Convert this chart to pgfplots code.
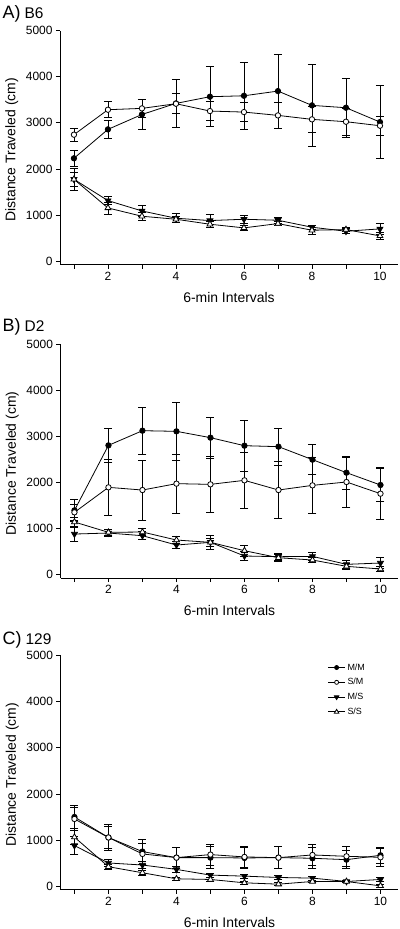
\documentclass[border=0pt]{standalone}
\usepackage{pgfplots}
\pgfplotsset{compat=1.18}
\usepackage{pgfplotstable}
\usepackage{fontspec}
\setmainfont{Liberation Sans}

% Panel A (B6)
\pgfplotstableread{
x y e
1 2230 175
2 2857 195
3 3180 330
4 3420 525
5 3565 650
6 3585 730
7 3687 800
8 3377 890
9 3326 635
10 3016 795
}\AMM
\pgfplotstableread{
x y e
1 2742 135
2 3283 175
3 3312 190
4 3413 215
5 3254 200
6 3232 200
7 3160 275
8 3074 280
9 3023 295
10 2936 210
}\ASM
\pgfplotstableread{
x y e
1 1775 230
2 1313 90
3 1089 110
4 931 100
5 880 140
6 909 80
7 887 60
8 736 50
9 649 55
10 700 115
}\AMS
\pgfplotstableread{
x y e
1 1775 160
2 1154 130
3 974 80
4 909 60
5 801 60
6 722 50
7 815 50
8 671 95
9 685 40
10 548 70
}\ASS

% Panel B (D2)
\pgfplotstableread{
x y e
1 1394 230
2 2803 370
3 3121 510
4 3107 620
5 2970 450
6 2796 550
7 2775 400
8 2493 330
9 2211 360
10 1944 350
}\BMM
\pgfplotstableread{
x y e
1 1351 180
2 1893 600
3 1835 650
4 1973 640
5 1958 600
6 2045 600
7 1835 620
8 1936 615
9 2009 540
10 1756 560
}\BSM
\pgfplotstableread{
x y e
1 881 150
2 903 80
3 845 90
4 643 80
5 701 150
6 405 100
7 390 80
8 397 90
9 224 80
10 253 115
}\BMS
\pgfplotstableread{
x y e
1 1142 100
2 918 70
3 925 70
4 751 80
5 701 80
6 520 120
7 368 80
8 318 60
9 181 60
10 123 50
}\BSS

% Panel C (129)
\pgfplotstableread{
x y e
1 1500 255
2 1056 290
3 750 270
4 619 230
5 619 235
6 612 230
7 619 235
8 605 230
9 575 200
10 670 180
}\CMM
\pgfplotstableread{
x y e
1 1457 255
2 1056 235
3 699 230
4 619 230
5 685 225
6 634 235
7 619 235
8 677 235
9 648 225
10 626 200
}\CSM
\pgfplotstableread{
x y e
1 881 190
2 503 70
3 459 70
4 364 60
5 240 40
6 218 40
7 189 40
8 175 40
9 102 30
10 146 40
}\CMS
\pgfplotstableread{
x y e
1 1063 150
2 422 50
3 291 50
4 160 40
5 146 40
6 73 30
7 44 30
8 102 30
9 102 30
10 7 30
}\CSS

\pgfplotsset{
  panel/.style={
    scale only axis, width=338bp, height=234bp,
    xmin=0.59, xmax=10.53, ymin=-72, ymax=5000,
    axis lines=left,
    axis line style={-, line width=0.8pt},
    every outer x axis line/.append style={-},
    every outer y axis line/.append style={-},
    tick align=outside, major tick length=4bp,
    tick style={line width=0.8pt, black},
    xtick={1,...,10}, xticklabels={,2,,4,,6,,8,,10},
    ytick={0,1000,...,5000},
    scaled y ticks=false,
    /pgf/number format/assume math mode=true,
    /pgf/number format/set thousands separator={},
    tick label style={font=\fontsize{12}{14}\selectfont},
    label style={font=\fontsize{14}{16}\selectfont},
    xlabel={6-min Intervals}, ylabel={Distance Traveled (cm)},
    xlabel style={at={(axis description cs:0.5,-0.14)}, anchor=center},
    ylabel style={at={(axis description cs:-0.143,0.49)}, anchor=center},
    clip=false,
  },
  err/.style={
    /pgfplots/error bars/y dir=both,
    /pgfplots/error bars/y explicit,
    /pgfplots/error bars/error bar style={line width=0.8pt, black},
    /pgfplots/error bars/error mark options={rotate=90, mark size=4bp, line width=0.8pt, black},
  },
  mm/.style={black, line width=0.8pt, mark=*, mark size=2.7bp, mark options={draw=black, fill=black}},
  sm/.style={black, line width=0.8pt, mark=*, mark size=2.7bp, mark options={draw=black, fill=white}},
  ms/.style={black, line width=0.8pt, mark=triangle*, mark size=3.4bp, mark options={draw=black, fill=black, rotate=180}},
  ss/.style={black, line width=0.8pt, mark=triangle*, mark size=3.4bp, mark options={draw=black, fill=white}},
}

\begin{document}
\begin{tikzpicture}
\useasboundingbox (0,0) rectangle (400bp,-929bp);

% ---------- Panel A ----------
\begin{axis}[panel, at={(60bp,-30.5bp)}, anchor=north west]
\addplot[mm, err] table[x=x, y=y, y error=e] {\AMM};
\addplot[sm, err] table[x=x, y=y, y error=e] {\ASM};
\addplot[ms, err] table[x=x, y=y, y error=e] {\AMS};
\addplot[ss, err] table[x=x, y=y, y error=e] {\ASS};
\end{axis}

% ---------- Panel B ----------
\begin{axis}[panel, at={(60.5bp,-344bp)}, anchor=north west]
\addplot[mm, err] table[x=x, y=y, y error=e] {\BMM};
\addplot[sm, err] table[x=x, y=y, y error=e] {\BSM};
\addplot[ms, err] table[x=x, y=y, y error=e] {\BMS};
\addplot[ss, err] table[x=x, y=y, y error=e] {\BSS};
\end{axis}

% ---------- Panel C ----------
\begin{axis}[panel, at={(60.5bp,-655.5bp)}, anchor=north west,
  legend style={at={(rel axis cs:0.79,0.975)}, anchor=north west, draw=none, fill=none,
    font=\fontsize{9}{10}\selectfont, row sep=2.8bp, inner sep=0pt},
  legend cell align=left,
  legend image post style={/tikz/every mark/.append style={scale=0.75}},
]
\addplot[mm, err] table[x=x, y=y, y error=e] {\CMM};
\addlegendentry{M/M}
\addplot[sm, err] table[x=x, y=y, y error=e] {\CSM};
\addlegendentry{S/M}
\addplot[ms, err] table[x=x, y=y, y error=e] {\CMS};
\addlegendentry{M/S}
\addplot[ss, err] table[x=x, y=y, y error=e] {\CSS};
\addlegendentry{S/S}
\end{axis}

% Panel titles
\node[anchor=base west, inner sep=0pt] at (2.5bp,-18.3bp) {\fontsize{18}{20}\selectfont A)\hspace{4bp}\fontsize{15.5}{18}\selectfont B6};
\node[anchor=base west, inner sep=0pt] at (2.5bp,-331.7bp) {\fontsize{18}{20}\selectfont B)\hspace{4bp}\fontsize{15.5}{18}\selectfont D2};
\node[anchor=base west, inner sep=0pt] at (2.5bp,-644bp) {\fontsize{18}{20}\selectfont C)\hspace{4bp}\fontsize{15.5}{18}\selectfont 129};
\end{tikzpicture}
\end{document}
